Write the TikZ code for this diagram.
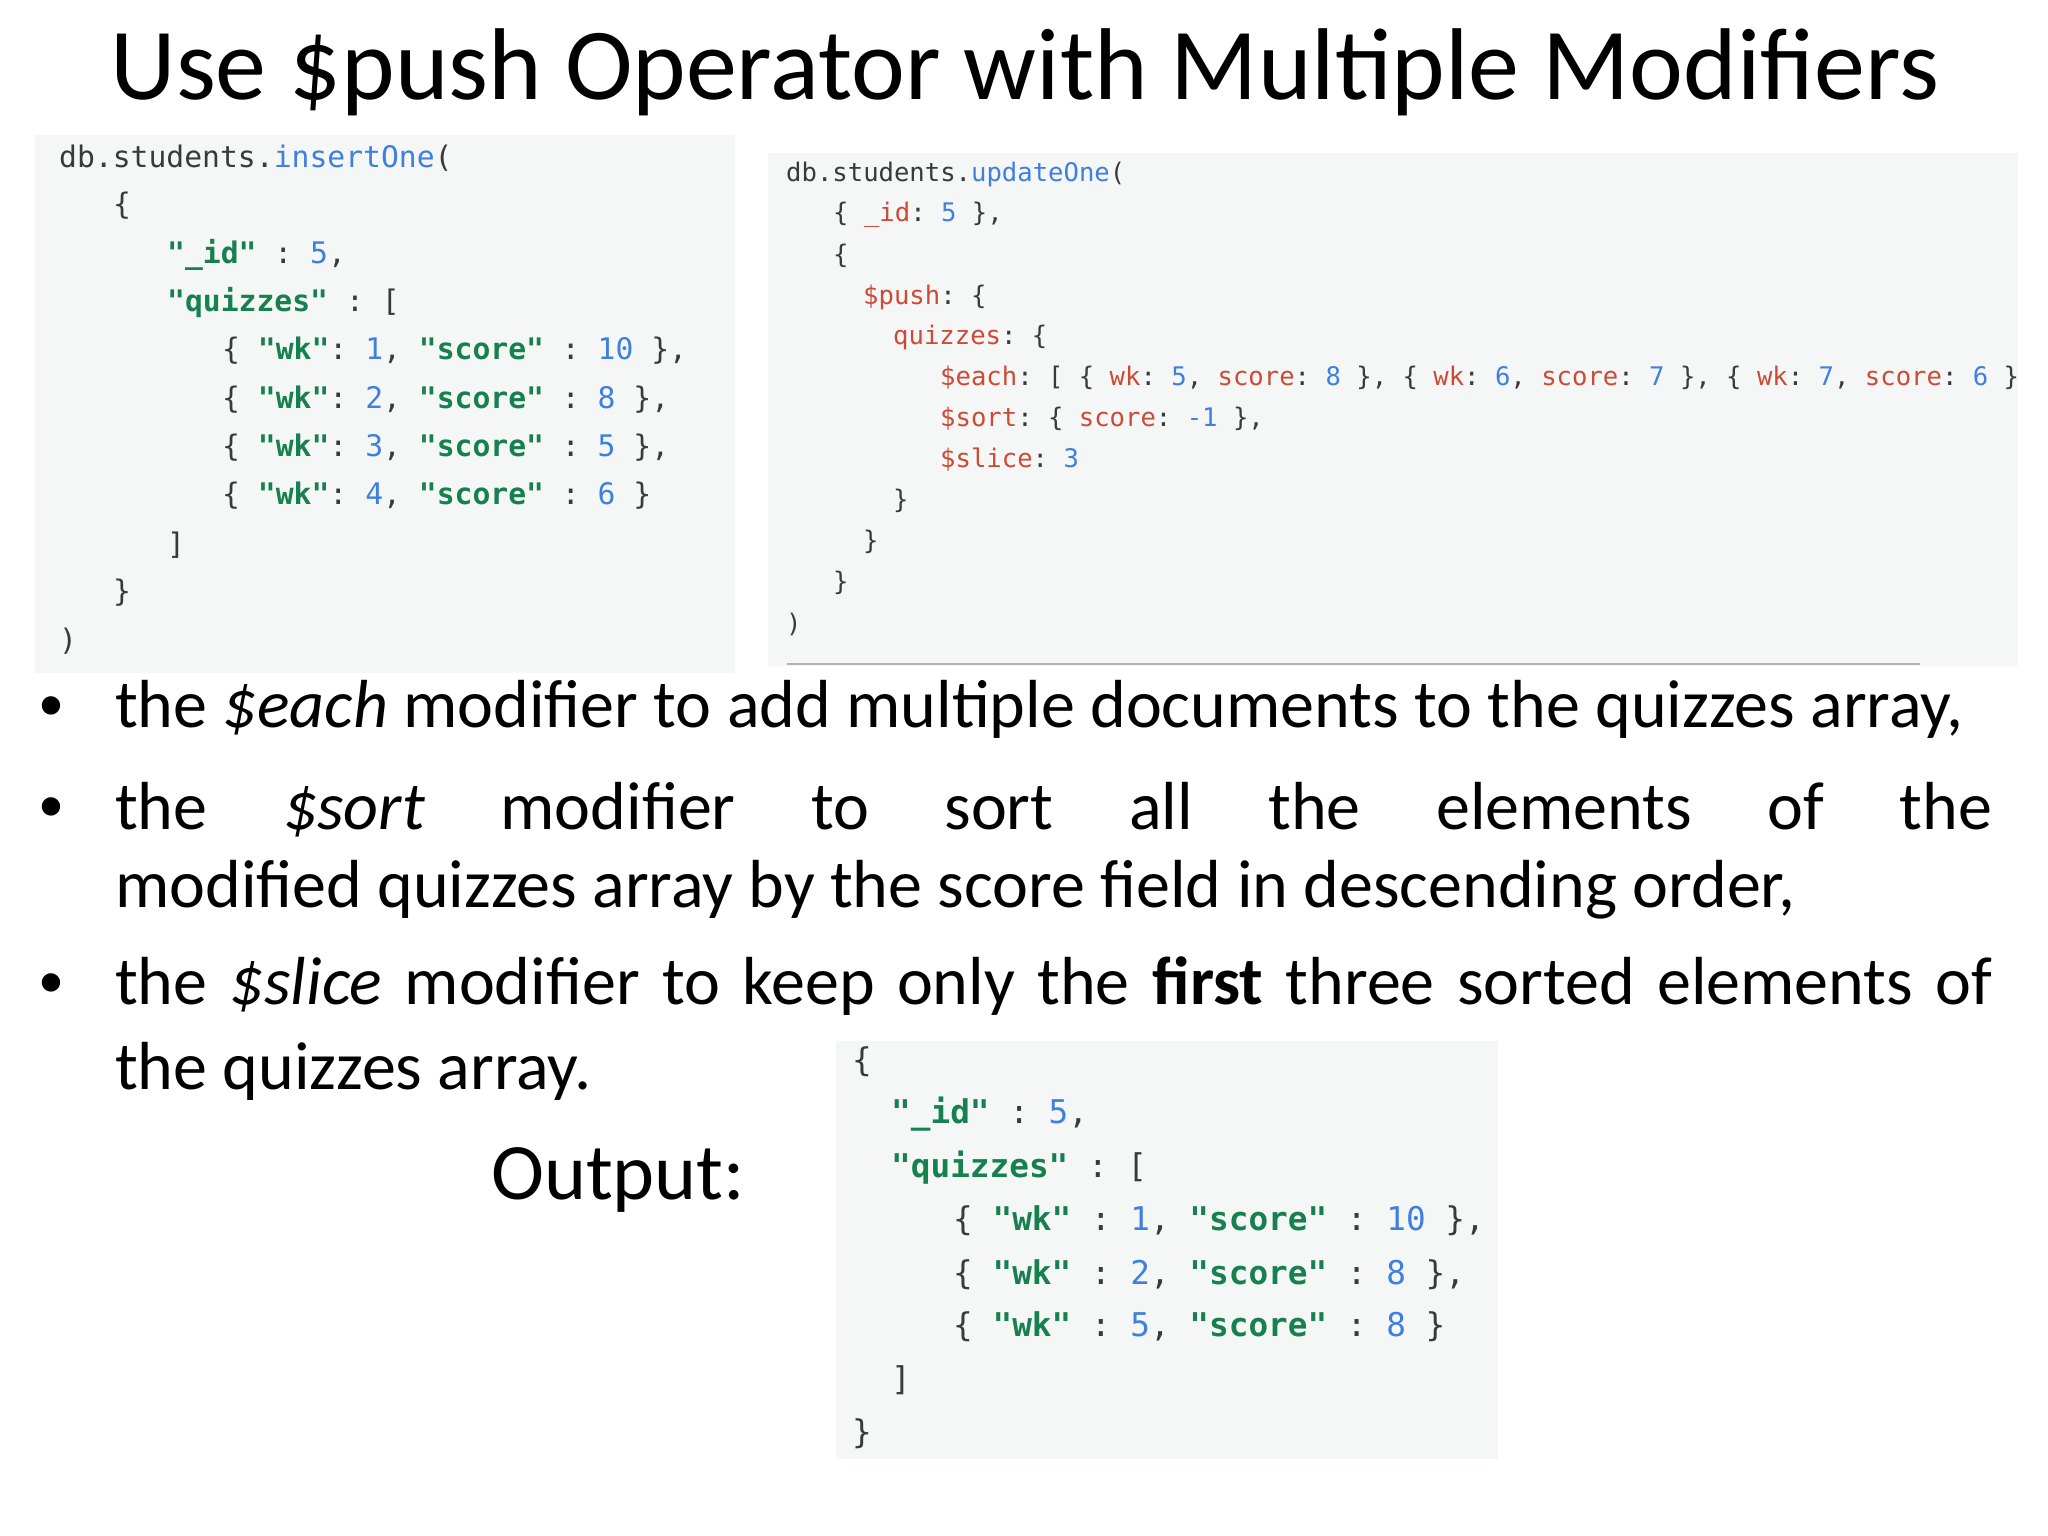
\documentclass[tikz,border=0pt]{standalone}
\usepackage{fontspec}
\setmainfont{Carlito}
\setmonofont{DejaVu Sans Mono}
\definecolor{kg}{HTML}{16804F}
\definecolor{nb}{HTML}{3F7FE0}
\definecolor{rd}{HTML}{CC4A36}
\definecolor{tx}{HTML}{3A3A3A}
\definecolor{bg}{HTML}{F5F7F7}
\newcommand\KK[1]{\textcolor{kg}{\bfseries #1}}
\newcommand\NN[1]{\textcolor{nb}{#1}}
\newcommand\RR[1]{\textcolor{rd}{#1}}
\tikzset{
 cl/.style={anchor=west,inner sep=0pt,text=tx,font=\ttfamily\fontsize{29.7}{30}\selectfont},
 cr/.style={anchor=west,inner sep=0pt,text=tx,font=\ttfamily\fontsize{25.6}{26}\selectfont},
 co/.style={anchor=west,inner sep=0pt,text=tx,font=\ttfamily\fontsize{32.7}{33}\selectfont},
 bt/.style={anchor=west,inner sep=0pt,font=\fontsize{68}{70}\selectfont},
 bd/.style={anchor=west,inner sep=0pt,font=\fontsize{52}{54}\selectfont},
}
\begin{document}
\begin{tikzpicture}[x=1pt,y=-1pt]
\useasboundingbox (0,0) rectangle (2048,1536);
\node[inner sep=0pt,font=\fontsize{102}{104}\selectfont] (title) at (1025,72) {Use \$push Operator with Multiple Modifiers};
% left box
\fill[bg] (35,135) rectangle (735,673);
\node[cl] (l0) at (59,158) {db.students.\NN{insertOne}(};
\node[cl] (l1) at (113,206) {\{};
\node[cl] (l2) at (167,255) {\KK{"\_id"} : \NN{5},};
\node[cl] (l3) at (167,303) {\KK{"quizzes"} : [};
\node[cl] (l4) at (222,351) {\{ \KK{"wk"}: \NN{1}, \KK{"score"} : \NN{10} \},};
\node[cl] (l5) at (222,400) {\{ \KK{"wk"}: \NN{2}, \KK{"score"} : \NN{8} \},};
\node[cl] (l6) at (222,448) {\{ \KK{"wk"}: \NN{3}, \KK{"score"} : \NN{5} \},};
\node[cl] (l7) at (222,496) {\{ \KK{"wk"}: \NN{4}, \KK{"score"} : \NN{6} \}};
\node[cl] (l8) at (167,545) {]};
\node[cl] (l9) at (113,593) {\}};
\node[cl] (l10) at (59,641) {)};
% right box
\fill[bg] (768,153) rectangle (2018,666);
\draw[gray!60,line width=2pt] (787,664) -- (1920,664);
\begin{scope}
\clip (768,153) rectangle (2018,666);
\node[cr] (r0) at (786,174) {db.students.\NN{updateOne}(};
\node[cr] (r1) at (833,215) {\{ \RR{\_id}: \NN{5} \},};
\node[cr] (r2) at (833,256) {\{};
\node[cr] (r3) at (863,297) {\RR{\$push}: \{};
\node[cr] (r4) at (893,337) {\RR{quizzes}: \{};
\node[cr] (r5) at (940,378) {\RR{\$each}: [ \{ \RR{wk}: \NN{5}, \RR{score}: \NN{8} \}, \{ \RR{wk}: \NN{6}, \RR{score}: \NN{7} \}, \{ \RR{wk}: \NN{7}, \RR{score}: \NN{6} \}};
\node[cr] (r6) at (940,419) {\RR{\$sort}: \{ \RR{score}: \NN{-1} \},};
\node[cr] (r7) at (940,460) {\RR{\$slice}: \NN{3}};
\node[cr] (r8) at (893,501) {\}};
\node[cr] (r9) at (863,542) {\}};
\node[cr] (r10) at (833,583) {\}};
\node[cr] (r11) at (786,624) {)};
\end{scope}
% bullets
\foreach \y in {709,810,986} \node[bd] at (38,\y) {•};
\node[bt] (b1) at (115,709) {the \textit{\$each} modifier to add multiple documents to the quizzes array,};
\node[bt] (b2) at (115,810) {\makebox[1877pt][s]{the\hfill\textit{\$sort}\hfill modifier\hfill to\hfill sort\hfill all\hfill the\hfill elements\hfill of\hfill the}};
\node[bt] (b3) at (115,890) {modified quizzes array by the score field in descending order,};
\node[bt] (b4) at (115,986) {\makebox[1877pt][s]{the \textit{\$slice} modifier to keep only the \textbf{first} three sorted elements of}};
\node[bt] (b5) at (115,1071) {the quizzes array.};
\node[anchor=west,inner sep=0pt,font=\fontsize{80}{82}\selectfont] (out) at (491,1180) {Output:};
% output box
\fill[bg] (836,1041) rectangle (1498,1459);
\node[co] (o0) at (852,1062) {\{};
\node[co] (o1) at (891,1114) {\KK{"\_id"} : \NN{5},};
\node[co] (o2) at (891,1168) {\KK{"quizzes"} : [};
\node[co] (o3) at (953,1221) {\{ \KK{"wk"} : \NN{1}, \KK{"score"} : \NN{10} \},};
\node[co] (o4) at (953,1275) {\{ \KK{"wk"} : \NN{2}, \KK{"score"} : \NN{8} \},};
\node[co] (o5) at (953,1327) {\{ \KK{"wk"} : \NN{5}, \KK{"score"} : \NN{8} \}};
\node[co] (o6) at (891,1380) {]};
\node[co] (o7) at (852,1434) {\}};
\end{tikzpicture}
\end{document}
